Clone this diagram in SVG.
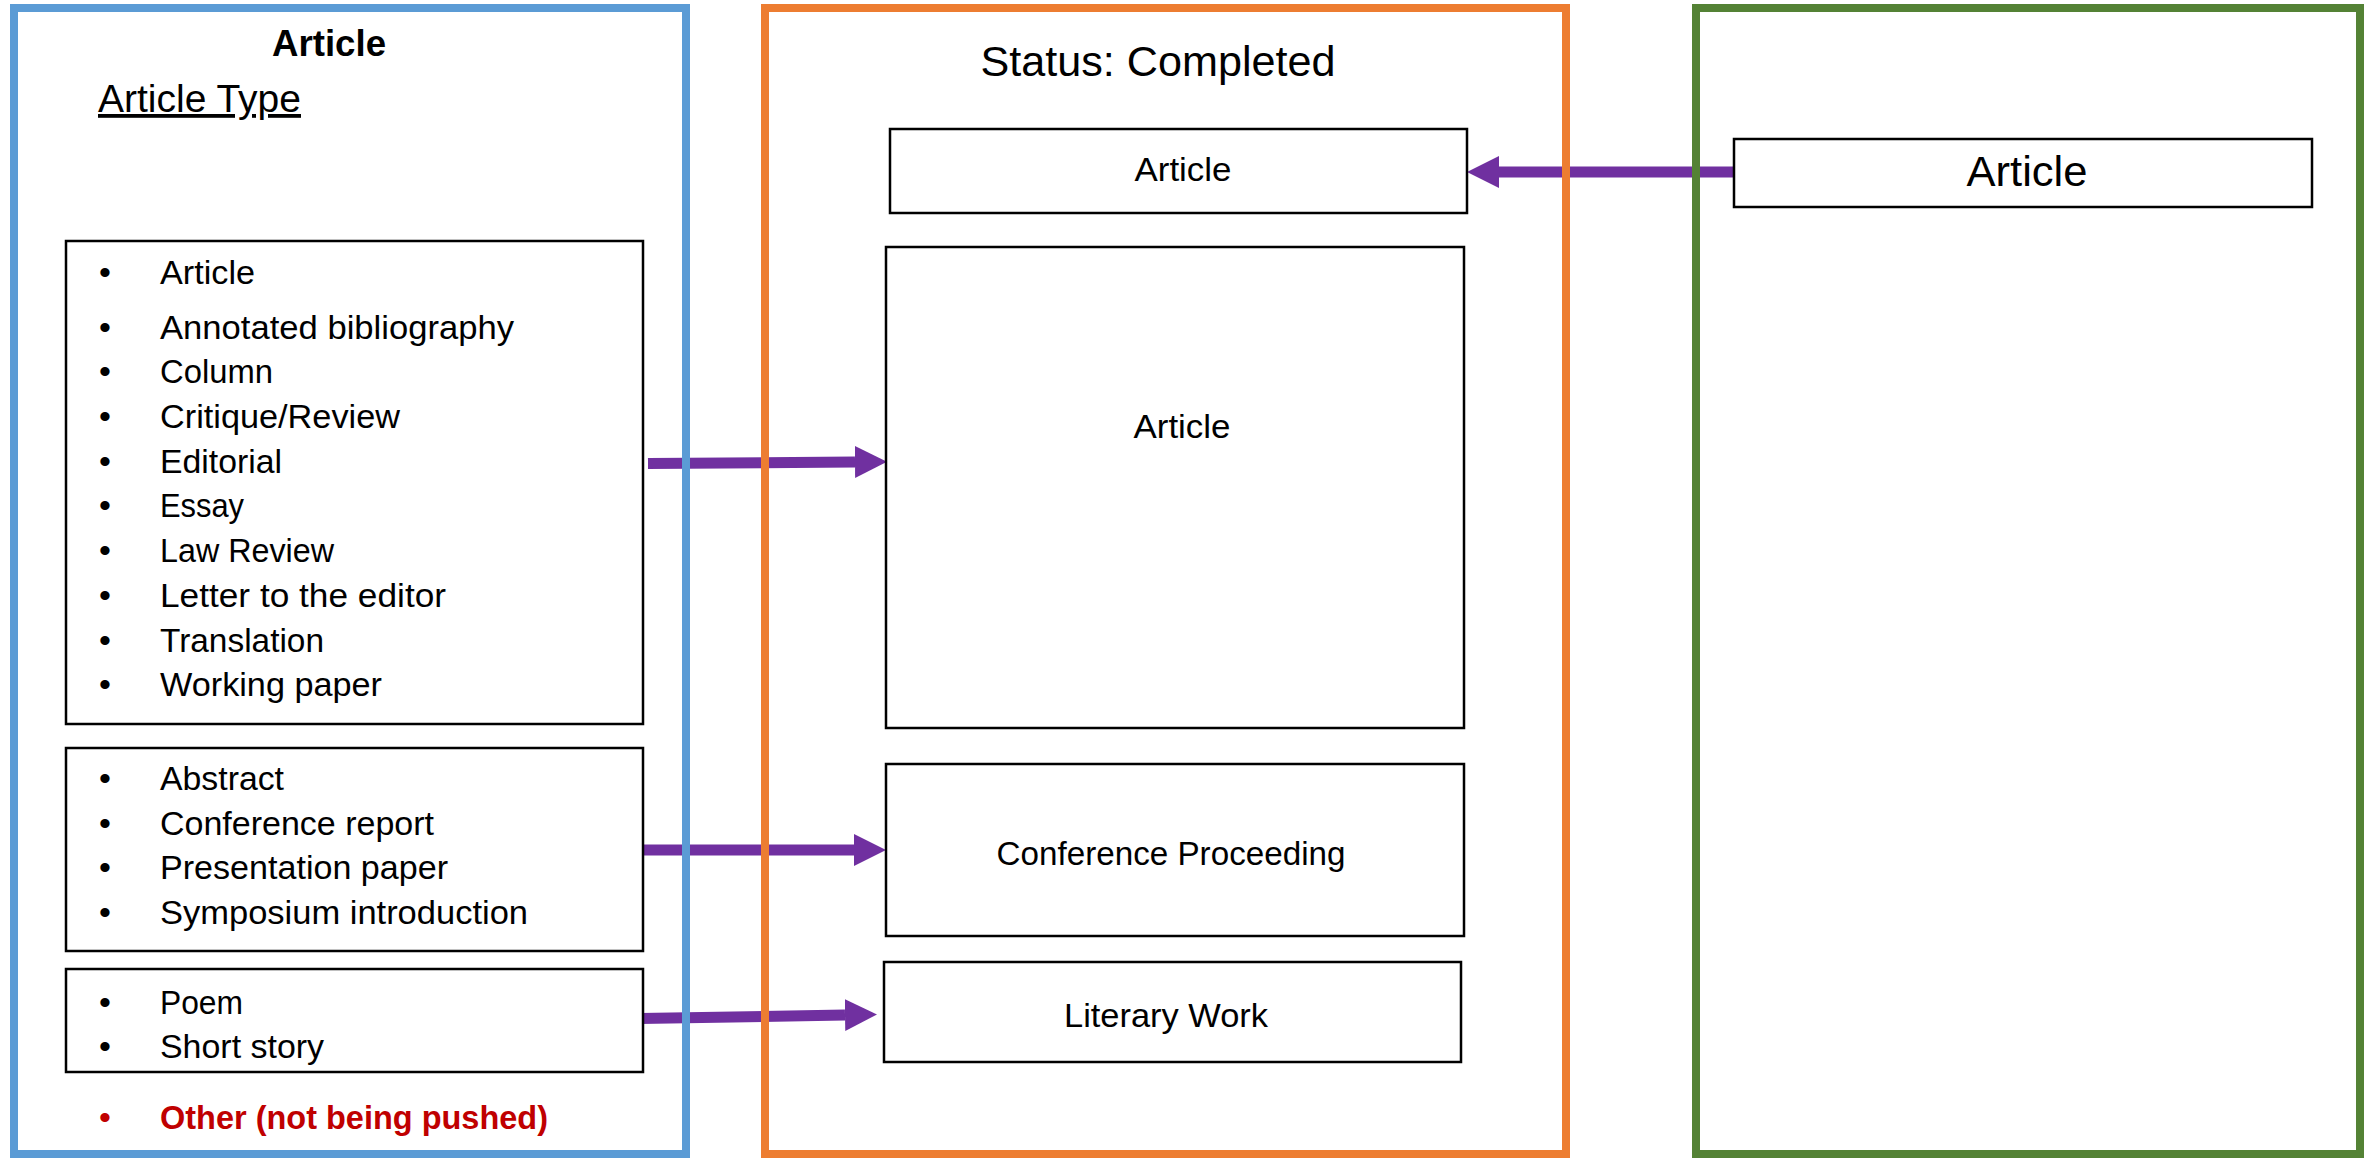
<svg xmlns="http://www.w3.org/2000/svg" width="2377" height="1158" viewBox="0 0 2377 1158">
<style>
  text { font-family: "Liberation Sans", Arial, sans-serif; fill: #000; }
  .item { font-size: 34px; }
  .bul { font-size: 34px; text-anchor: middle; }
  .lbl { font-size: 34px; text-anchor: middle; }
  .box { fill: #fff; stroke: #000; stroke-width: 2.5; }
  .cont { fill: none; stroke-width: 8; }
  .conn { stroke: #7030A0; stroke-width: 11; fill: none; marker-end: url(#head); }
</style>
<defs>
  <marker id="head" markerUnits="userSpaceOnUse" markerWidth="33" markerHeight="33" refX="0" refY="16" orient="auto">
    <path d="M0,0 L32,16 L0,32 z" fill="#7030A0"/>
  </marker>
</defs>
<rect x="0" y="0" width="2377" height="1158" fill="#fff"/>

<g id="connectors">
  <path class="conn" d="M648,463.5 L855,462"/>
  <path class="conn" d="M643,850 L854,850"/>
  <path class="conn" d="M640,1018.5 L845,1015"/>
  <path class="conn" d="M1734,172 L1499,172"/>
</g>

<g id="article-type-panel">
  <rect class="cont" x="14" y="8" width="672" height="1146" stroke="#5B9BD5"/>
  <text x="329" y="56" font-size="36" font-weight="bold" text-anchor="middle" textLength="114" lengthAdjust="spacingAndGlyphs">Article</text>
  <text x="98" y="112" font-size="38" text-decoration="underline" textLength="203" lengthAdjust="spacingAndGlyphs">Article Type</text>
</g>

<g id="list-article">
  <rect class="box" x="66" y="241" width="577" height="483"/>
  <text class="bul" x="105" y="284">•</text><text class="item" x="160" y="284" textLength="95" lengthAdjust="spacingAndGlyphs">Article</text>
  <text class="bul" x="105" y="339">•</text><text class="item" x="160" y="339" textLength="354" lengthAdjust="spacingAndGlyphs">Annotated bibliography</text>
  <text class="bul" x="105" y="383">•</text><text class="item" x="160" y="383" textLength="113" lengthAdjust="spacingAndGlyphs">Column</text>
  <text class="bul" x="105" y="428">•</text><text class="item" x="160" y="428" textLength="240" lengthAdjust="spacingAndGlyphs">Critique/Review</text>
  <text class="bul" x="105" y="473">•</text><text class="item" x="160" y="473" textLength="122" lengthAdjust="spacingAndGlyphs">Editorial</text>
  <text class="bul" x="105" y="517">•</text><text class="item" x="160" y="517" textLength="84" lengthAdjust="spacingAndGlyphs">Essay</text>
  <text class="bul" x="105" y="562">•</text><text class="item" x="160" y="562" textLength="174" lengthAdjust="spacingAndGlyphs">Law Review</text>
  <text class="bul" x="105" y="607">•</text><text class="item" x="160" y="607" textLength="286" lengthAdjust="spacingAndGlyphs">Letter to the editor</text>
  <text class="bul" x="105" y="652">•</text><text class="item" x="160" y="652" textLength="164" lengthAdjust="spacingAndGlyphs">Translation</text>
  <text class="bul" x="105" y="696">•</text><text class="item" x="160" y="696" textLength="222" lengthAdjust="spacingAndGlyphs">Working paper</text>
</g>

<g id="list-conference">
  <rect class="box" x="66" y="748" width="577" height="203"/>
  <text class="bul" x="105" y="790">•</text><text class="item" x="160" y="790" textLength="124" lengthAdjust="spacingAndGlyphs">Abstract</text>
  <text class="bul" x="105" y="835">•</text><text class="item" x="160" y="835" textLength="274" lengthAdjust="spacingAndGlyphs">Conference report</text>
  <text class="bul" x="105" y="879">•</text><text class="item" x="160" y="879" textLength="288" lengthAdjust="spacingAndGlyphs">Presentation paper</text>
  <text class="bul" x="105" y="924">•</text><text class="item" x="160" y="924" textLength="368" lengthAdjust="spacingAndGlyphs">Symposium introduction</text>
</g>

<g id="list-literary">
  <rect class="box" x="66" y="969" width="577" height="103"/>
  <text class="bul" x="105" y="1014">•</text><text class="item" x="160" y="1014" textLength="83" lengthAdjust="spacingAndGlyphs">Poem</text>
  <text class="bul" x="105" y="1058">•</text><text class="item" x="160" y="1058" textLength="164" lengthAdjust="spacingAndGlyphs">Short story</text>
</g>

<g id="other-note">
  <text class="bul" x="105" y="1129" style="fill:#C00000">•</text>
  <text class="item" x="160" y="1129" font-weight="bold" style="fill:#C00000" textLength="388" lengthAdjust="spacingAndGlyphs">Other (not being pushed)</text>
</g>

<g id="status-panel">
  <rect class="cont" x="765" y="8" width="801" height="1146" stroke="#ED7D31"/>
  <text x="1158" y="76" font-size="42" text-anchor="middle" textLength="355" lengthAdjust="spacingAndGlyphs">Status: Completed</text>
</g>

<g id="status-article-top">
  <rect class="box" x="890" y="129" width="577" height="84"/>
  <text class="lbl" x="1183" y="181" textLength="97" lengthAdjust="spacingAndGlyphs">Article</text>
</g>

<g id="status-article">
  <rect class="box" x="886" y="247" width="578" height="481"/>
  <text class="lbl" x="1182" y="438" textLength="97" lengthAdjust="spacingAndGlyphs">Article</text>
</g>

<g id="status-conference">
  <rect class="box" x="886" y="764" width="578" height="172"/>
  <text class="lbl" x="1171" y="865" textLength="349" lengthAdjust="spacingAndGlyphs">Conference Proceeding</text>
</g>

<g id="status-literary">
  <rect class="box" x="884" y="962" width="577" height="100"/>
  <text class="lbl" x="1166" y="1027" textLength="204" lengthAdjust="spacingAndGlyphs">Literary Work</text>
</g>

<g id="target-panel">
  <rect class="cont" x="1696" y="8" width="664" height="1146" stroke="#548235"/>
</g>

<g id="target-article">
  <rect class="box" x="1734" y="139" width="578" height="68"/>
  <text x="2027" y="186" font-size="42" text-anchor="middle" textLength="121" lengthAdjust="spacingAndGlyphs">Article</text>
</g>
</svg>
